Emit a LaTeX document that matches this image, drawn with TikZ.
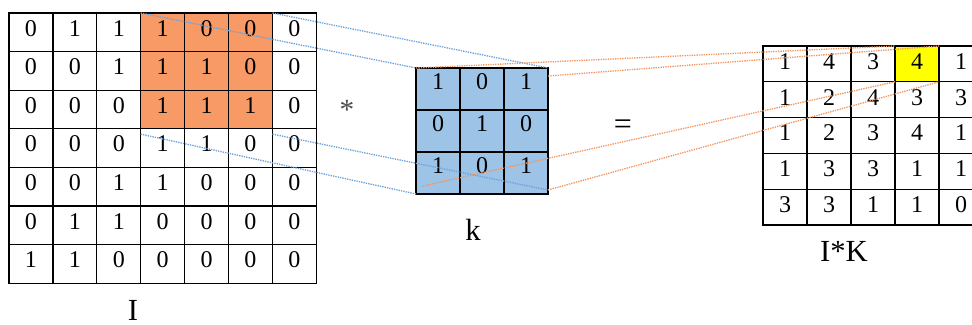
\documentclass[tikz,border=0pt]{standalone}
\usepackage{fontspec}
\setmainfont{Liberation Serif}
\usetikzlibrary{positioning}

\definecolor{patchorange}{RGB}{248,154,101}
\definecolor{kernelblue}{RGB}{157,195,230}
\definecolor{resultyellow}{RGB}{255,255,0}
\definecolor{linkblue}{RGB}{110,162,218}
\definecolor{linkorange}{RGB}{242,150,95}

\begin{document}
\begin{tikzpicture}[
    x=0.75pt, y=-0.75pt,
    cell/.style={rectangle, draw, line width=1pt, inner sep=0pt, outer sep=0pt, minimum width=33pt, font=\fontsize{18}{20}\selectfont},
    incell/.style={cell, minimum height=28.95pt, text height=12.2pt, text depth=6.6pt},
    kcell/.style={cell, minimum height=31.5pt, fill=kernelblue, text height=12.2pt, text depth=11.6pt},
    outcell/.style={cell, minimum height=26.85pt, text height=12.2pt, text depth=4pt},
    link/.style={line width=1pt, dash pattern=on 1pt off 0.8pt},
    lbl/.style={font=\fontsize{23}{26}\selectfont, anchor=base}
]
\useasboundingbox (0,0) rectangle (972,325);
\clip (0,0) rectangle (972,325);

% input image I, with the patch under the kernel
\foreach \row [count=\r from 0] in {{0,1,1,1,0,0,0},{0,0,1,1,1,0,0},{0,0,0,1,1,1,0},{0,0,0,1,1,0,0},{0,0,1,1,0,0,0},{0,1,1,0,0,0,0},{1,1,0,0,0,0,0}}
  \foreach \v [count=\c from 0] in \row {
    \def\shade{white}
    \ifnum\r<3 \ifnum\c>2 \ifnum\c<6 \def\shade{patchorange}\fi\fi\fi
    \node[incell, fill=\shade] (I-\r-\c) at ({9+43.9*(\c+0.5)}, {13+38.6*(\r+0.5)}) {\v};
  }

% kernel k
\foreach \row [count=\r from 0] in {{1,0,1},{0,1,0},{1,0,1}}
  \foreach \v [count=\c from 0] in \row
    \node[kcell] (K-\r-\c) at ({416+44*(\c+0.5)}, {68+42*(\r+0.5)}) {\v};

% result I*K
\foreach \row [count=\r from 0] in {{1,4,3,4,1},{1,2,4,3,3},{1,2,3,4,1},{1,3,3,1,1},{3,3,1,1,0}}
  \foreach \v [count=\c from 0] in \row {
    \def\shade{white}
    \ifnum\r=0 \ifnum\c=3 \def\shade{resultyellow}\fi\fi
    \node[outcell, fill=\shade] (O-\r-\c) at ({763+44*(\c+0.5)}, {46+35.8*(\r+0.5)}) {\v};
  }

\node[font=\fontsize{22}{24}\selectfont, text=black!70] (conv) at (347,110) {*};
\node[font=\fontsize{24}{26}\selectfont] (eq) at (623,127) {=};

\node[lbl] (I-label) at (133,320) {I};
\node[lbl] (K-label) at (473,240) {k};
\node[lbl] (O-label) at (844,261) {I*K};

% patch -> kernel
\draw[link, linkblue] (I-0-3.north west) -- (K-0-0.north west);
\draw[link, linkblue] (I-0-5.north east) -- (K-0-2.north east);
\draw[link, linkblue] ([yshift=-4pt]I-2-3.south west) -- (K-2-0.south west);
\draw[link, linkblue] ([yshift=-4pt]I-2-5.south east) -- ([yshift=3pt]K-2-2.south east);

% kernel -> result
\draw[link, linkorange] (K-0-0.north west) -- (O-0-3.north west);
\draw[link, linkorange] ([yshift=-6pt]K-0-2.north east) -- (O-0-3.north east);
\draw[link, linkorange] ([xshift=5pt, yshift=6pt]K-2-0.south west) -- (O-0-3.south west);
\draw[link, linkorange] ([yshift=3pt]K-2-2.south east) -- (O-0-3.south east);
\end{tikzpicture}
\end{document}
